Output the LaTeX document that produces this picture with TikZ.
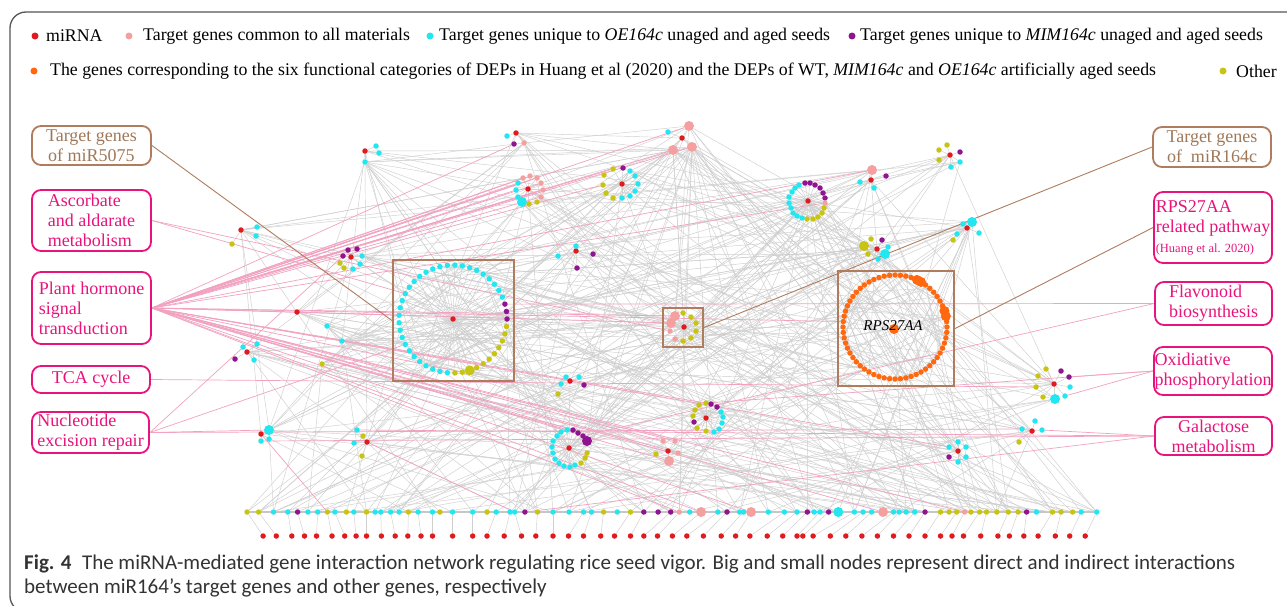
\documentclass[tikz,border=0pt]{standalone}
\usepackage{fontspec}
\setmainfont{Liberation Serif}
\newfontfamily\capfont{Carlito}
\usetikzlibrary{calc}
\pgfdeclarelayer{bg}
\pgfsetlayers{bg,main}
\definecolor{cR}{HTML}{E01B1F}
\definecolor{cP}{HTML}{F5A0A0}
\definecolor{cC}{HTML}{22E6F0}
\definecolor{cM}{HTML}{8E1490}
\definecolor{cY}{HTML}{C8C414}
\definecolor{cO}{HTML}{FF680E}
\definecolor{cT}{HTML}{E8147C}
\definecolor{cB}{HTML}{B07C5E}
\definecolor{cBt}{HTML}{A07858}
\definecolor{gline}{HTML}{CFCFCF}
\definecolor{pline}{HTML}{F2A2C0}
\definecolor{frameC}{HTML}{555555}
\definecolor{capC}{HTML}{333333}
\tikzset{
 dR/.style={circle,inner sep=0pt,minimum size=5.5pt,fill=cR},
 dC/.style={circle,inner sep=0pt,minimum size=5.5pt,fill=cC},
 dM/.style={circle,inner sep=0pt,minimum size=5.5pt,fill=cM},
 dY/.style={circle,inner sep=0pt,minimum size=5.5pt,fill=cY},
 dP/.style={circle,inner sep=0pt,minimum size=5.5pt,fill=cP},
 dO/.style={circle,inner sep=0pt,minimum size=5.5pt,fill=cO},
 dCB/.style={circle,inner sep=0pt,minimum size=10pt,fill=cC},
 dYB/.style={circle,inner sep=0pt,minimum size=10pt,fill=cY},
 dPB/.style={circle,inner sep=0pt,minimum size=10pt,fill=cP},
 dOB/.style={circle,inner sep=0pt,minimum size=10pt,fill=cO},
 dMB/.style={circle,inner sep=0pt,minimum size=10pt,fill=cM},
 ldot/.style={circle,inner sep=0pt,minimum size=7pt,fill=#1},
 legtext/.style={anchor=west,inner sep=0pt,font=\rmfamily\fontsize{17.8}{20}\selectfont},
 gedge/.style={draw=gline,line width=0.45pt},
 pedge/.style={draw=pline,line width=0.7pt},
 bedge/.style={draw=cB,line width=0.9pt},
 pbox/.style={draw=cT,line width=1.8pt,rounded corners=9pt,text=cT,inner sep=0pt,font=\rmfamily\fontsize{18}{20}\selectfont,align=left},
 bbox/.style={draw=cB,line width=1.8pt,rounded corners=9pt,text=cBt,inner sep=0pt,font=\rmfamily\fontsize{18}{20}\selectfont,align=center},
 sqbox/.style={draw=cB,line width=2.2pt,inner sep=0pt},
 captext/.style={anchor=base west,inner sep=0pt,text=capC,font=\capfont\fontsize{21}{24}\selectfont},
}
\newcommand\mkstar[2]{\foreach \j in {2,...,#2} \draw[gedge] (#11) -- (#1\j);}
\begin{document}
\begin{tikzpicture}[x=1pt,y=-1pt]
\useasboundingbox (0,0) rectangle (1287,605);
% outer frame
\draw[draw=frameC,line width=1.3pt,rounded corners=16pt] (1295,12) -- (10,12) -- (10,612) -- (40,612);
% legend
\node[ldot=cR] (lg1) at (35,36) {};
\node[legtext] (lt1) at (46,36) {miRNA};
\node[ldot=cP] (lg2) at (129,36) {};
\node[legtext] (lt2) at (143,36) {Target genes common to all materials};
\node[ldot=cC] (lg3) at (430,36) {};
\node[legtext] (lt3) at (439,36) {Target genes unique to \textit{OE164c} unaged and aged seeds};
\node[ldot=cM] (lg4) at (852,36) {};
\node[legtext] (lt4) at (860,36) {Target genes unique to \textit{MIM164c} unaged and aged seeds};
\node[ldot=cO] (lg5) at (34,71) {};
\node[legtext] (lt5) at (50,71) {The genes corresponding to the six functional categories of DEPs in Huang et al (2020) and the DEPs of WT, \textit{MIM164c} and \textit{OE164c} artificially aged seeds};
\node[ldot=cY] (lg6) at (1223,71) {};
\node[legtext] (lt6) at (1236,71) {Other};

% clusters
\foreach \x/\y/\k [count=\i] in {365/151/R,376/146/C,379/153/C,365/162/C} \node[d\k] (A\i) at (\x,\y) {};
\foreach \x/\y/\k [count=\i] in {516/133/R,507/136/C,514/144/M,524/143/P} \node[d\k] (B\i) at (\x,\y) {};
\foreach \x/\y/\k [count=\i] in {682/138/R,668/132/C,689/126/PB,673/150/PB,692/147/PB} \node[d\k] (C\i) at (\x,\y) {};
\foreach \x/\y/\k [count=\i] in {528/189/R,523/178/P,530/176/P,537/178/P,541/183/P,543/190/P,541/197/P,518/183/C,516/190/C,518/197/C,522/202/CB,529/204/Y,537/202/Y} \node[d\k] (D\i) at (\x,\y) {};
\foreach \x/\y/\k [count=\i] in {622/184/R,613/169/Y,604/175/Y,603/185/Y,606/193/Y,613/198/Y,623/168/M,630/171/C,635/176/C,638/184/C,635/191/C,630/196/C,622/198/C} \node[d\k] (E\i) at (\x,\y) {};
\foreach \x/\y/\k [count=\i] in {351/257/R,348/250/M,357/249/M,343/256/M,362/256/C,340/263/Y,360/264/C,344/268/Y,353/269/C} \node[d\k] (F\i) at (\x,\y) {};
\foreach \x/\y/\k [count=\i] in {576/251/R,576/246/C,593/254/M,558/256/C,577/268/M} \node[d\k] (G\i) at (\x,\y) {};
\foreach \x/\y/\k [count=\i] in {808/201/R,805/183/M,810/183/M,815/185/M,820/188/M,823/193/M,825/198/M,825/203/P,824/208/Y,822/213/Y,818/217/Y,813/219/Y,807/219/Y,802/218/C,797/216/C,793/213/C,791/208/C,789/203/C,789/197/C,792/192/C,795/188/C,799/185/C} \node[d\k] (H\i) at (\x,\y) {};
\foreach \x/\y/\k [count=\i] in {871/180/R,872/170/PB,860/182/C,886/176/M,874/188/C} \node[d\k] (I\i) at (\x,\y) {};
\foreach \x/\y/\k [count=\i] in {950/155/R,947/145/Y,939/150/Y,960/152/M,939/160/Y,960/162/C,951/167/C} \node[d\k] (J\i) at (\x,\y) {};
\foreach \x/\y/\k [count=\i] in {967/228/R,972/222/CB,963/224/C,957/234/C,979/233/C,953/240/Y} \node[d\k] (K\i) at (\x,\y) {};
\foreach \x/\y/\k [count=\i] in {877/249/R,864/246/YB,871/239/Y,882/240/M,888/247/C,868/254/Y,885/254/CB,878/259/C} \node[d\k] (L\i) at (\x,\y) {};
\foreach \x/\y/\k [count=\i] in {241/230/R,257/227/C,256/236/C,232/244/Y} \node[d\k] (N\i) at (\x,\y) {};
\foreach \x/\y/\k [count=\i] in {297/312/R,327/326/C,342/341/C,322/364/Y} \node[d\k] (Z\i) at (\x,\y) {};
\foreach \x/\y/\k [count=\i] in {247/352/R,243/347/C,257/344/C,235/359/M,254/360/C} \node[d\k] (O\i) at (\x,\y) {};
\foreach \x/\y/\k [count=\i] in {261/434/R,269/430/CB,261/441/C,269/439/C} \node[d\k] (P\i) at (\x,\y) {};
\foreach \x/\y/\k [count=\i] in {367/442/R,357/430/C,363/436/Y,354/443/C,362/456/Y} \node[d\k] (Q\i) at (\x,\y) {};
\foreach \x/\y/\k [count=\i] in {570/381/R,566/377/C,579/377/C,561/384/C,584/385/M,558/394/Y} \node[d\k] (R\i) at (\x,\y) {};
\foreach \x/\y/\k [count=\i] in {569/448/R,573/430/M,578/433/M,583/436/M,587/441/MB,587/453/Y,585/458/Y,581/463/Y,575/465/C,570/467/C,564/466/C,559/463/C,555/459/C,553/453/C,552/447/C,553/441/C,557/436/C,561/432/C,567/430/C} \node[d\k] (S\i) at (\x,\y) {};
\foreach \x/\y/\k [count=\i] in {706/418/R,706/403/Y,699/405/Y,695/410/Y,693/416/Y,697/428/Y,706/431/Y,711/404/M,717/407/M,694/422/M,721/412/C,723/417/C,722/423/C,719/429/C,714/432/C} \node[d\k] (T\i) at (\x,\y) {};
\foreach \x/\y/\k [count=\i] in {668/451/R,663/441/P,675/441/P,656/454/Y,678/453/P,669/461/PB} \node[d\k] (U\i) at (\x,\y) {};
\foreach \x/\y/\k [count=\i] in {1054/384/R,1046/369/Y,1061/371/M,1038/376/Y,1069/377/M,1036/387/Y,1070/387/C,1043/397/Y,1055/399/CB,1065/396/C} \node[d\k] (V\i) at (\x,\y) {};
\foreach \x/\y/\k [count=\i] in {1032/431/R,1035/421/C,1022/429/C,1042/430/C,1019/442/Y} \node[d\k] (W\i) at (\x,\y) {};
\foreach \x/\y/\k [count=\i] in {958/451/R,958/442/C,949/447/C,966/447/C,949/457/M,966/457/C,958/462/C} \node[d\k] (X\i) at (\x,\y) {};
\foreach \x/\y/\k [count=\i] in {684/327/R,675/316/PB,671/323/PB,670/331/P,675/339/P,683/313/Y,691/317/Y,696/323/Y,696/331/Y,691/338/Y,683/341/Y} \node[d\k] (Mb\i) at (\x,\y) {};

% left ring
\node[dR] (Lr0) at (453,319) {};
\foreach \a [count=\i] in {24,32,...,264} \node[dC] (Lc\i) at ($(453,319)+(\a:54pt)$) {};
\foreach \a [count=\i] in {272,280,...,352} \node[dY] (Ly\i) at ($(453,319)+(\a:54pt)$) {};
\foreach \a [count=\i] in {0,8,16} \node[dM] (Lm\i) at ($(453,319)+(\a:54pt)$) {};
\node[dYB] (LyB) at ($(453,319)+(288:54pt)$) {};
% RPS ring
\foreach \a [count=\i] in {0,6,...,354} \node[dO] (Ro\i) at ($(895,327)+(\a:52pt)$) {};
\node[dOB] (RoB1) at ($(895,327)+(65:52pt)$) {};
\node[dOB] (RoB2) at ($(895,327)+(60:52pt)$) {};
\node[dOB] (RoB3) at ($(895,327)+(18:52pt)$) {};
\node[dOB] (RoB4) at ($(895,327)+(12:52pt)$) {};
\node[dOB] (Ro0) at (894,329) {};
\node[inner sep=0pt,font=\rmfamily\itshape\fontsize{15}{18}\selectfont] (rpslab) at (893,326) {RPS27AA};

% bottom rows
\foreach \x/\k [count=\i] in {247.1/Y,258.6/Y,273.5/C,287.8/C,297.6/M,307.9/C,317.7/C,327.4/Y,334.9/C,346.4/Y,353.8/C,366.5/Y,375.1/C,380.8/C,390.6/C,399.2/C,408.4/Y,418.1/C,432.5/C,440.0/Y,452.6/C,472.7/C,487.0/Y,496.2/C,510.0/C,514.6/C,524.9/M,537.5/Y,553.0/C,569.1/C,583.5/C,591.5/C,603.6/Y,617.3/C,630.5/Y,643.8/M,658.1/M,670.7/M,679.3/P,689.7/C,701.1/PB,717.8/C,727.0/M,739.6/C,743.6/C,751.1/PB,768.3/C,784.4/C,797.0/C,807.3/M,814.2/C,820.0/C,828.6/M,838.3/CB,854.4/C,863.0/C,871.6/C,883.1/PB,893.5/C,899.2/C,906.1/C,914.7/C,925.0/M,940.5/Y,949.1/Y,956.6/Y,964.6/P,970.9/Y,979.6/Y,986.5/Y,996.8/Y,1008.3/Y,1018.1/Y,1026.6/M,1036.4/C,1052.5/Y,1061.1/Y,1072.6/Y,1081.2/C,1096.7/C} \node[d\k] (b\i) at (\x,512) {};
\foreach \x [count=\i] in {263.1,276.3,291.8,304.5,316.5,332.0,344.7,356.1,366.5,381.4,395.2,407.8,421.0,432.5,452.6,472.7,487.0,504.2,521.5,535.8,553.0,568.5,583.5,600.7,614.5,630.5,643.8,657.5,672.4,686.8,703.4,721.2,735.6,749.9,767.2,782.7,797.0,802.8,813.1,830.3,845.8,861.9,877.4,893.5,909.0,925.0,940.5,952.0,963.5,980.7,997.9,1009.4,1023.8,1038.1,1055.3,1069.7,1085.2} \node[dR] (r\i) at (\x,536) {};

% big square boxes
\node[sqbox,minimum width=121pt,minimum height=121pt] (lbox) at (453.5,320.5) {};
\node[sqbox,minimum width=40pt,minimum height=39pt] (mbox) at (683,327.5) {};
\node[sqbox,minimum width=116pt,minimum height=115pt] (rbox) at (896,328.5) {};

% label boxes
\node[bbox,minimum width=119pt,minimum height=39pt] (bx5075) at (91.5,145.5) {Target genes\\of miR5075};
\node[pbox,minimum width=119pt,minimum height=61pt] (bxA) at (91.5,220.5) {Ascorbate\\and aldarate\\metabolism};
\node[pbox,minimum width=119pt,minimum height=72pt] (bxP) at (91.5,308) {Plant hormone\\signal\\transduction};
\node[pbox,minimum width=118pt,minimum height=27pt] (bxT) at (91,379.5) {TCA cycle};
\node[pbox,minimum width=117pt,minimum height=41pt] (bxN) at (90.5,432.5) {Nucleotide\\excision repair};
\node[bbox,minimum width=118pt,minimum height=40pt] (bx164) at (1212,147) {Target genes\\of~ miR164c};
\node[pbox,minimum width=118pt,minimum height=71pt] (bxR) at (1213,227.5) {RPS27AA\\related pathway\\{\fontsize{12.5}{14}\selectfont(Huang et al. 2020)}};
\node[pbox,minimum width=117pt,minimum height=43pt] (bxF) at (1213.5,303.5) {Flavonoid\\biosynthesis};
\node[pbox,minimum width=118pt,minimum height=48pt] (bxO) at (1213,371) {Oxidiative\\phosphorylation};
\node[pbox,minimum width=117pt,minimum height=38pt,align=center] (bxG) at (1213.5,436) {Galactose\\metabolism};

% caption
\node[captext] (cap1) at (24,569) {\textbf{Fig. 4}\enspace The miRNA-mediated gene interaction network regulating rice seed vigor. Big and small nodes represent direct and indirect interactions};
\node[captext] (cap2) at (24,593) {between miR164’s target genes and other genes, respectively};

\begin{pgfonlayer}{bg}
\fill[white] (0,0) rectangle (1287,605);
\mkstar{A}{4}\mkstar{B}{4}\mkstar{C}{5}\mkstar{D}{13}\mkstar{E}{13}\mkstar{F}{9}\mkstar{G}{5}
\mkstar{H}{22}\mkstar{I}{5}\mkstar{J}{7}\mkstar{K}{6}\mkstar{L}{8}\mkstar{N}{4}\mkstar{O}{5}
\mkstar{P}{4}\mkstar{Q}{5}\mkstar{R}{6}\mkstar{S}{19}\mkstar{T}{15}\mkstar{U}{6}\mkstar{V}{10}
\mkstar{W}{5}\mkstar{X}{7}\mkstar{Mb}{11}
\foreach \i in {1,...,31} \draw[gedge] (Lr0) -- (Lc\i);
\foreach \i in {1,...,11} \draw[gedge] (Lr0) -- (Ly\i);
\foreach \i in {1,...,3} \draw[gedge] (Lr0) -- (Lm\i);
\draw[draw=gray!45,line width=1.5pt] (b1) -- (b80);
\foreach \i in {1,...,57}{
  \pgfmathtruncatemacro{\j}{round((\i-1)*79/56)+1}
  \draw[gedge] (r\i) -- (b\j);
}
\pgfmathsetseed{7}
\pgfmathdeclarerandomlist{hubs}{{A1}{A4}{B1}{B4}{C1}{C3}{C4}{C5}{D1}{D11}{E1}{E8}{F1}{F5}{G1}{H1}{H8}{I1}{I2}{J1}{J6}{K1}{K2}{L1}{L2}{L7}{N1}{O1}{P1}{P2}{Q1}{R1}{S1}{S5}{T1}{U1}{U6}{V1}{V9}{W1}{X1}{Mb1}{Mb2}{Mb3}{Lr0}{Ro0}{Z1}{Z2}{Z3}{Z4}{Lc5}{Lc28}{Ly3}{Ro10}{Ro40}{Lm2}{Ro25}{H1}{L1}{Mb1}{C4}{C5}}
\foreach \k in {1,...,190}{
  \pgfmathrandomitem{\hu}{hubs}
  \pgfmathrandominteger{\jj}{1}{80}
  \draw[gedge] (\hu) -- (b\jj);
}
\foreach \k in {1,...,170}{
  \pgfmathrandomitem{\hu}{hubs}
  \pgfmathrandomitem{\hv}{hubs}
  \draw[gedge] (\hu) -- (\hv);
}
\foreach \k in {1,...,50}{
  \pgfmathrandominteger{\ua}{1}{31}
  \pgfmathrandomitem{\hv}{hubs}
  \draw[gedge] (Lc\ua) -- (\hv);
}
\foreach \k in {1,...,45}{
  \pgfmathrandominteger{\ua}{1}{60}
  \pgfmathrandominteger{\ub}{1}{60}
  \draw[gedge] (Ro\ua) -- (Ro\ub);
}
\foreach \k in {1,...,35}{
  \pgfmathrandominteger{\ua}{1}{60}
  \pgfmathrandomitem{\hv}{hubs}
  \draw[gedge] (Ro\ua) -- (\hv);
}
% pink pathway edges
\foreach \s/\d in {bxP.east/C3,bxP.east/C4,bxP.east/C5,bxP.east/B3,bxP.east/D2,bxP.east/D3,bxP.east/D4,bxP.east/D5,bxP.east/D6,bxP.east/D7,bxP.east/D8,bxP.east/D9,bxP.east/H8,bxP.east/I2,bxP.east/E2,bxP.east/E4,bxP.east/Mb2,bxP.east/Mb3,bxP.east/Lc20,bxP.east/Ro30,bxP.east/U2,bxP.east/U3,bxP.east/U5,bxP.east/U6,bxP.east/b39,bxP.east/b41,bxP.east/b46,bxP.east/b58,bxP.east/b67,bxP.east/S2,bxP.east/S3,bxP.east/T8,bxP.east/X3,bxP.east/Ly2,bxP.east/Ly5,bxP.east/F2,
bxA.east/Mb4,bxA.east/Lc17,bxT.east/V6,bxN.east/F4,bxN.east/Lc24,bxN.east/P2,bxN.east/W3,
bxF.west/Lm3,bxF.west/S4,bxO.west/V5,bxO.west/V10,bxO.west/T2,
bxG.west/W4,bxG.west/Q2,bxG.west/P3,bxG.west/b27,P1/b8,Q1/b26}
  \draw[pedge] (\s) -- (\d);
% brown pointers
\draw[bedge] (bx5075.east) -- (lbox.west);
\draw[bedge] (bx164.west) -- (mbox.east);
\draw[bedge] (bxR.west) -- (rbox.east);
\end{pgfonlayer}
\end{tikzpicture}
\end{document}
